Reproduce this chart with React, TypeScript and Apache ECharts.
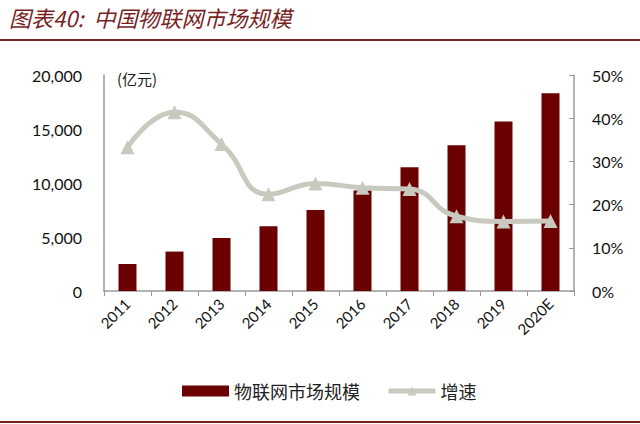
import React, { useEffect, useRef } from "react";
import * as echarts from "echarts";

const years = ["2011", "2012", "2013", "2014", "2015", "2016", "2017", "2018", "2019", "2020E"];
const marketSize = [2500, 3650, 4900, 6000, 7500, 9300, 11450, 13500, 15700, 18300];
const growthRate = [33.3, 41.4, 34.0, 22.4, 24.9, 23.9, 23.6, 17.3, 16.1, 16.2];

const BAR_COLOR = "#6b0000";
const LINE_COLOR = "#c9c9bf";
const TITLE_COLOR = "#7a1f1f";
const AXIS_GRAY = "#9a9a9a";
const LATIN = "Lato, 'Noto Sans', sans-serif";
const CJK = "'Noto Sans CJK SC', sans-serif";

export default function App() {
  const chartRef = useRef<HTMLDivElement>(null);

  useEffect(() => {
    if (!chartRef.current) return;
    const chart = echarts.init(chartRef.current, undefined, { renderer: "svg" });

    const option: echarts.EChartsOption = {
      animation: false,
      backgroundColor: "#ffffff",
      grid: { left: 104, right: 66, top: 75, bottom: 133 },
      legend: {
        left: 177,
        top: 377,
        itemWidth: 47,
        itemHeight: 11,
        itemGap: 26,
        textStyle: { fontSize: 18, fontFamily: CJK, color: "#222" },
        data: [
          { name: "物联网市场规模", icon: "rect" },
          { name: "增速", lineStyle: { width: 5, color: LINE_COLOR } },
        ],
      },
      graphic: [
        {
          type: "text",
          left: 9,
          top: 6,
          style: {
            text: "图表40:  中国物联网市场规模",
            fontSize: 22,
            fontStyle: "italic",
            fontFamily: CJK,
            fill: TITLE_COLOR,
          },
        },
        {
          type: "line",
          shape: { x1: 0, y1: 40, x2: 640, y2: 40 },
          style: { stroke: TITLE_COLOR, lineWidth: 2 },
        },
        {
          type: "line",
          shape: { x1: 0, y1: 422, x2: 640, y2: 422 },
          style: { stroke: TITLE_COLOR, lineWidth: 2 },
        },
        {
          type: "text",
          left: 117,
          top: 71,
          style: { text: "(亿元)", fontSize: 15, fontFamily: CJK, fill: "#222" },
        },
      ],
      xAxis: {
        type: "category",
        data: years,
        axisLine: { lineStyle: { color: AXIS_GRAY, width: 1.5 } },
        axisTick: { show: true, length: 5, lineStyle: { color: AXIS_GRAY } },
        axisLabel: {
          rotate: 45,
          fontSize: 15,
          fontFamily: LATIN,
          color: "#111",
          margin: 10,
        },
      },
      yAxis: [
        {
          type: "value",
          min: 0,
          max: 20000,
          interval: 5000,
          splitLine: { show: false },
          axisLine: { show: true, lineStyle: { color: AXIS_GRAY, width: 1.5 } },
          axisTick: { show: false },
          axisLabel: {
            fontSize: 16,
            fontFamily: LATIN,
            color: "#111",
            margin: 22,
            formatter: (v: number) => v.toLocaleString("en-US"),
          },
        },
        {
          type: "value",
          min: 0,
          max: 50,
          interval: 10,
          position: "right",
          splitLine: { show: false },
          axisLine: { show: true, lineStyle: { color: AXIS_GRAY, width: 1.5 } },
          axisTick: { show: true, inside: true, length: 5, lineStyle: { color: AXIS_GRAY } },
          axisLabel: {
            fontSize: 16,
            fontFamily: LATIN,
            color: "#111",
            margin: 18,
            formatter: (v: number) => `${v}%`,
          },
        },
      ],
      series: [
        {
          name: "物联网市场规模",
          type: "bar",
          data: marketSize,
          barWidth: 18,
          itemStyle: { color: BAR_COLOR },
        },
        {
          name: "增速",
          type: "line",
          yAxisIndex: 1,
          data: growthRate,
          smooth: true,
          symbol: "triangle",
          symbolSize: 14,
          itemStyle: { color: LINE_COLOR },
          lineStyle: { color: LINE_COLOR, width: 5 },
        },
      ],
    };

    chart.setOption(option);
    return () => chart.dispose();
  }, []);

  return (
    <div
      ref={chartRef}
      style={{ position: "fixed", left: 0, top: 0, width: 640, height: 424 }}
    />
  );
}
